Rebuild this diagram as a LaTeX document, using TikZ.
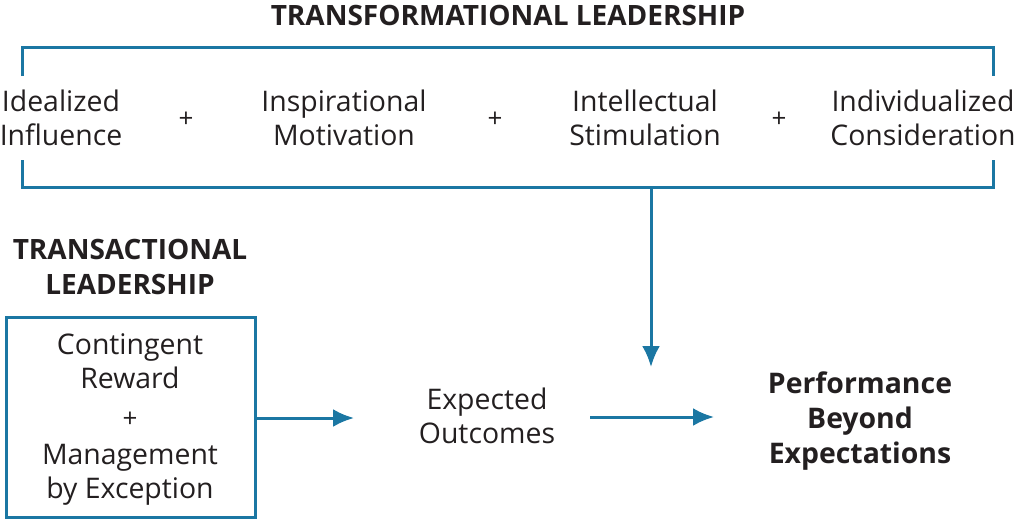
\documentclass[tikz,border=0pt]{standalone}
\usepackage{fontspec}
\setmainfont{Open Sans}
\usetikzlibrary{arrows.meta}
\definecolor{lblue}{HTML}{1B77A3}
\definecolor{ink}{HTML}{231F20}
\tikzset{
  conn/.style={draw=lblue, line width=3pt},
  arr/.style={conn, -{Latex[length=21pt,width=18pt]}},
  item/.style={align=center, inner sep=0pt, text=ink, font=\fontsize{28.4}{34}\selectfont},
  plus/.style={inner sep=0pt, text=ink, font=\fontsize{26}{28}\selectfont},
  title/.style={align=center, inner sep=0pt, text=ink, font=\bfseries\fontsize{28}{35}\selectfont},
  btitle/.style={align=center, inner sep=0pt, text=ink, font=\bfseries\fontsize{28.4}{35}\selectfont},
}
\begin{document}
\begin{tikzpicture}[x=1pt,y=-1pt]
\useasboundingbox (0,0) rectangle (1016,520);
\node[title] (t1) at (508,15) {TRANSFORMATIONAL LEADERSHIP};
% bracket
\coordinate (tl) at (22,47);
\coordinate (tr) at (993,47);
\coordinate (bl) at (22,187);
\coordinate (br) at (993,187);
\coordinate (bm) at (651,187);
\draw[conn] (22,76) -- (tl) -- (tr) -- (993,76);
\draw[conn] (22,160) -- (bl) -- (br) -- (993,160);
\node[item] (ii) at (61,118) {Idealized\\Influence};
\node[plus] (p1) at (186,120) {+};
\node[item] (im) at (344,118) {Inspirational\\Motivation};
\node[plus] (p2) at (495,120) {+};
\node[item] (is) at (645,118) {Intellectual\\Stimulation};
\node[plus] (p3) at (779,120) {+};
\node[item] (ic) at (923,118) {Individualized\\Consideration};
% transactional
\node[title] (t2) at (130,267) {TRANSACTIONAL\\LEADERSHIP};
\node[draw=lblue, line width=3pt, minimum width=249pt, minimum height=200pt, inner sep=0pt] (box) at (130.5,417) {};
\node[item] (cr) at (130,361) {Contingent\\Reward};
\node[plus] (p4) at (130,420) {+};
\node[item] (me) at (130,475) {Management\\by Exception};
\node[item] (eo) at (487,416) {Expected\\Outcomes};
\node[btitle] (pe) at (860,421) {Performance\\Beyond\\Expectations};
\coordinate (a1) at (354,418);
\coordinate (a2s) at (590,417);
\coordinate (a2e) at (714,417);
\coordinate (a3) at (651,367);
\draw[arr] (box.east |- a1) -- (a1);
\draw[arr] (a2s) -- (a2e);
\draw[arr] (bm) -- (a3);
\end{tikzpicture}
\end{document}
